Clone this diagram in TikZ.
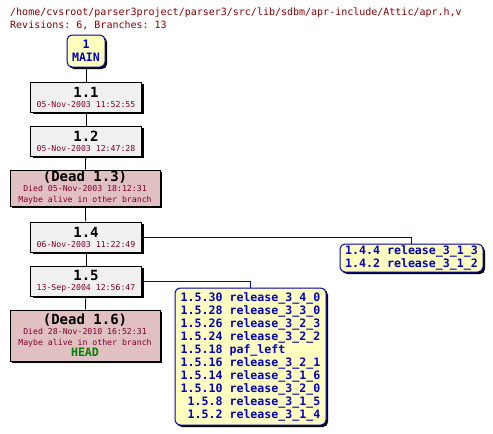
\documentclass[tikz,border=0pt]{standalone}
\usepackage{fontspec}
\setmonofont{DejaVu Sans Mono}
\usetikzlibrary{shadows}
\definecolor{cvsTitle}{HTML}{800000}
\definecolor{cvsDate}{HTML}{800030}
\definecolor{cvsGray}{HTML}{F0F0F0}
\definecolor{cvsDead}{HTML}{E0C0C0}
\definecolor{cvsYellow}{HTML}{FFFFC0}
\definecolor{cvsBlue}{HTML}{0000C0}
\definecolor{cvsGreen}{HTML}{008000}
\newcommand{\revfont}{\ttfamily\bfseries\fontsize{14}{15}\selectfont}
\newcommand{\datefont}{\ttfamily\fontsize{8.2}{9}\selectfont\color{cvsDate}}
\newcommand{\tagfont}{\ttfamily\bfseries\fontsize{11.6}{13}\selectfont}

\begin{document}
\begin{tikzpicture}[
  x=1pt, y=-1pt,
  every node/.style={font=\ttfamily, inner sep=0pt},
  shade/.style={drop shadow={shadow xshift=2pt, shadow yshift=-2pt,
    fill=black, opacity=1}},
  revbox/.style={
    rectangle, draw=black, line width=1pt, fill=cvsGray, shade,
    minimum width=111pt, minimum height=30pt, align=center
  },
  deadbox/.style={
    rectangle, draw=black, line width=1pt, fill=cvsDead, shade,
    minimum width=150pt, align=center
  },
  branchbox/.style={
    rectangle, rounded corners=5pt, draw=cvsBlue!80!black, line width=1pt,
    fill=cvsYellow, shade, text=cvsBlue, align=center
  },
]
\useasboundingbox[fill=white] (0,0) rectangle (493,434);

% === HEADER ===
\node[anchor=base west, text=cvsTitle, font=\ttfamily\fontsize{10}{10}\selectfont]
  (path) at (10,15.5) {/home/cvsroot/parser3project/parser3/src/lib/sdbm/apr-include/Attic/apr.h,v};
\node[anchor=base west, text=cvsTitle, font=\ttfamily\fontsize{10}{10}\selectfont]
  (stats) at (10,28) {Revisions: 6, Branches: 13};

% === TRUNK ===
\node[branchbox, minimum width=38pt, minimum height=32pt, font=\tagfont]
  (main) at (86,51) {1\\MAIN};
\node[revbox] (r11) at (86,97)
  {\revfont 1.1\\[-2pt]\datefont 05-Nov-2003 11:52:55};
\node[revbox] (r12) at (86,141)
  {\revfont 1.2\\[-2pt]\datefont 05-Nov-2003 12:47:28};
\node[deadbox, minimum height=36pt] (r13) at (85,188)
  {\revfont (Dead 1.3)\\[-2pt]\datefont Died 05-Nov-2003 18:12:31\\[-1pt]\datefont Maybe alive in other branch};
\node[revbox] (r14) at (86,237)
  {\revfont 1.4\\[-2pt]\datefont 06-Nov-2003 11:22:49};
\node[revbox] (r15) at (86,281)
  {\revfont 1.5\\[-2pt]\datefont 13-Sep-2004 12:56:47};
\node[deadbox, minimum height=51pt] (r16) at (85,335.5)
  {\revfont (Dead 1.6)\\[-2pt]\datefont Died 28-Nov-2010 16:52:31\\[-1pt]\datefont Maybe alive in other branch\\[-1pt]{\tagfont\color{cvsGreen}HEAD}};

\draw[line width=0.8pt] (main) -- (r11);
\draw[line width=0.8pt] (r11) -- (r12);
\draw[line width=0.8pt] (r12) -- (r13);
\draw[line width=0.8pt] (r13) -- (r14);
\draw[line width=0.8pt] (r14) -- (r15);
\draw[line width=0.8pt] (r15) -- (r16);

% === BRANCHES ===
\node[branchbox, minimum width=143pt, minimum height=28pt, font=\tagfont]
  (b14) at (411.5,258) {1.4.4 release\_3\_1\_3\\1.4.2 release\_3\_1\_2};
\node[branchbox, minimum width=151pt, minimum height=137pt, font=\tagfont]
  (b15) at (250.5,356.5) {%
  1.5.30 release\_3\_4\_0\\
  1.5.28 release\_3\_3\_0\\
  1.5.26 release\_3\_2\_3\\
  1.5.24 release\_3\_2\_2\\
  1.5.18 paf\_left\hphantom{3\_2\_2}\\
  1.5.16 release\_3\_2\_1\\
  1.5.14 release\_3\_1\_6\\
  1.5.10 release\_3\_2\_0\\
  \hphantom{1}1.5.8 release\_3\_1\_5\\
  \hphantom{1}1.5.2 release\_3\_1\_4};

\draw[cvsBlue, line width=0.8pt] (r14.east) -| (b14.north);
\draw[cvsBlue, line width=0.8pt] (r15.east) -| (b15.north);

\end{tikzpicture}
\end{document}
